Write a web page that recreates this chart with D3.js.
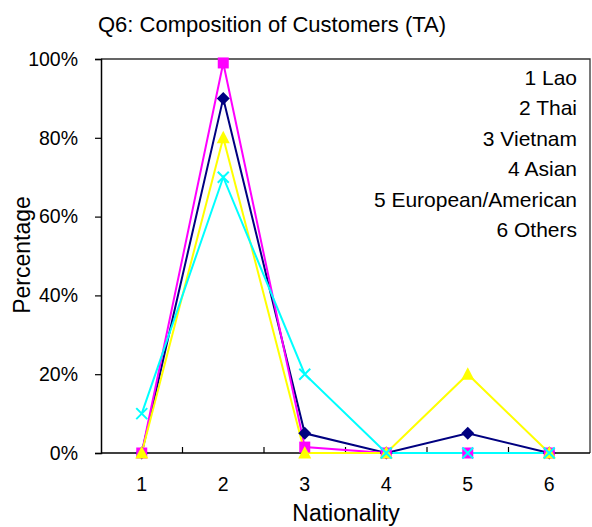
<!DOCTYPE html>
<html>
<head>
<meta charset="utf-8">
<script src="https://cdn.jsdelivr.net/npm/d3@7"></script>
<style>
  html, body { margin: 0; padding: 0; background: #fff; }
  svg { display: block; font-family: "Liberation Sans", Arial, sans-serif; }
</style>
</head>
<body>
<svg id="chart" width="592" height="527"></svg>
<script>
// Nationality categories and per-series percentages
const categories = ["1", "2", "3", "4", "5", "6"];
const seriesNavy    = [0, 90, 5, 0, 5, 0];
const seriesMagenta = [0, 99, 1.5, 0, 0, 0];
const seriesYellow  = [0, 80, 0, 0, 20, 0];
const seriesCyan    = [10, 70, 20, 0, 0, 0];
const yTicks = [0, 20, 40, 60, 80, 100];
const legendLines = ["1 Lao", "2 Thai", "3 Vietnam", "4 Asian", "5 European/American", "6 Others"];

const series = [
  { values: seriesNavy,    color: "#000080", marker: "diamond" },
  { values: seriesMagenta, color: "#FF00FF", marker: "square" },
  { values: seriesYellow,  color: "#FFFF00", marker: "triangle" },
  { values: seriesCyan,    color: "#00FFFF", marker: "cross" }
];

const svg = d3.select("#chart");
const plotLeft = 101, plotRight = 590, plotTop = 59, plotBottom = 453;

const x = d3.scaleBand().domain(categories).range([plotLeft, plotRight]);
const y = d3.scaleLinear().domain([0, 100]).range([plotBottom, plotTop]);

// Plot frame (top and right edges)
svg.append("path")
  .attr("d", `M${plotLeft},${plotTop}H${plotRight}V${plotBottom}`)
  .attr("fill", "none").attr("stroke", "#333").attr("stroke-width", 1.3);

// Y axis
const yAxis = svg.append("g").attr("transform", `translate(${plotLeft},0)`)
  .call(d3.axisLeft(y).tickValues(yTicks).tickFormat(d => d + "%").tickSize(6).tickPadding(17));
yAxis.select(".domain").attr("stroke", "#000").attr("stroke-width", 1.5);
yAxis.selectAll(".tick line").attr("stroke", "#000").attr("stroke-width", 1.2);
yAxis.selectAll("text").attr("font-size", 19.5).attr("fill", "#000")
  .attr("font-family", "'Liberation Sans', Arial, sans-serif");

// X axis: ticks sit between categories
const xAxisG = svg.append("g").attr("transform", `translate(0,${plotBottom})`);
xAxisG.append("line").attr("x1", plotLeft).attr("x2", plotRight).attr("y1", 0).attr("y2", 0)
  .attr("stroke", "#000").attr("stroke-width", 1.5);
categories.slice(1).forEach(c => {
  xAxisG.append("line").attr("x1", x(c)).attr("x2", x(c)).attr("y1", 0).attr("y2", -6)
    .attr("stroke", "#000").attr("stroke-width", 1.2);
});
xAxisG.selectAll("text.xl").data(categories).join("text").attr("class", "xl")
  .attr("x", d => x(d) + x.bandwidth() / 2).attr("y", 38)
  .attr("text-anchor", "middle").attr("font-size", 19.5).text(d => d);

const cx = i => x(categories[i]) + x.bandwidth() / 2;

// Lines
const line = d3.line().x((d, i) => cx(i)).y(d => y(d));
series.forEach(s => {
  svg.append("path").datum(s.values).attr("d", line)
    .attr("fill", "none").attr("stroke", s.color).attr("stroke-width", 2);
});

// Markers
series.forEach(s => {
  const g = svg.append("g");
  s.values.forEach((v, i) => {
    const px = cx(i), py = y(v);
    if (s.marker === "diamond") {
      g.append("path").attr("d", `M${px},${py - 6.5}L${px + 6.5},${py}L${px},${py + 6.5}L${px - 6.5},${py}Z`)
        .attr("fill", s.color);
    } else if (s.marker === "square") {
      g.append("rect").attr("x", px - 5.5).attr("y", py - 5.5).attr("width", 11).attr("height", 11)
        .attr("fill", s.color);
    } else if (s.marker === "triangle") {
      g.append("path").attr("d", `M${px},${py - 7}L${px + 6.5},${py + 5.5}L${px - 6.5},${py + 5.5}Z`)
        .attr("fill", s.color);
    } else {
      g.append("path").attr("d", `M${px - 5.5},${py - 5.5}L${px + 5.5},${py + 5.5}M${px + 5.5},${py - 5.5}L${px - 5.5},${py + 5.5}`)
        .attr("stroke", s.color).attr("stroke-width", 2).attr("fill", "none");
    }
  });
});

// Category key text
svg.selectAll("text.key").data(legendLines).join("text").attr("class", "key")
  .attr("x", 577).attr("y", (d, i) => 85 + i * 30.4)
  .attr("text-anchor", "end").attr("font-size", 21).text(d => d);

// Title and axis titles
svg.append("text").attr("x", 272).attr("y", 32).attr("text-anchor", "middle")
  .attr("font-size", 22).text("Q6: Composition of Customers (TA)");
svg.append("text").attr("x", 346).attr("y", 521).attr("text-anchor", "middle")
  .attr("font-size", 23).text("Nationality");
svg.append("text").attr("transform", "translate(30,255) rotate(-90)")
  .attr("text-anchor", "middle").attr("font-size", 23).text("Percentage");
</script>
</body>
</html>
